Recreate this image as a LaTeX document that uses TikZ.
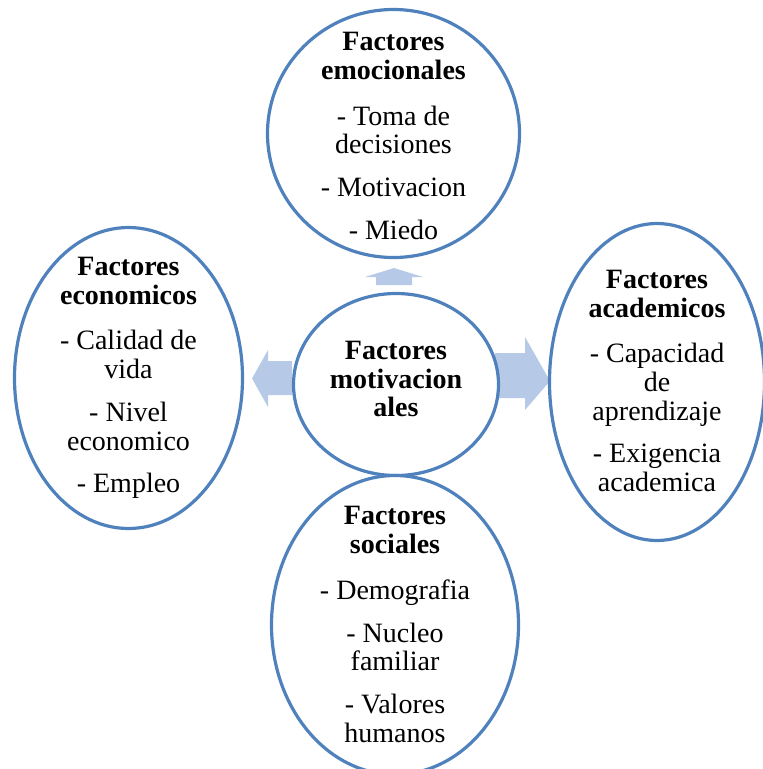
\documentclass[tikz,border=0pt]{standalone}
\usepackage{fontspec}
\setmainfont{Liberation Serif}
\usetikzlibrary{shapes.geometric}
\definecolor{ringblue}{RGB}{79,129,189}
\definecolor{arrowblue}{RGB}{182,202,232}
\begin{document}
\begin{tikzpicture}[x=1pt,y=-1pt,
  ring/.style={ellipse, draw=ringblue, line width=3.2pt, fill=white, inner sep=0pt},
  txt/.style={align=center, font=\fontsize{28}{28.7}\selectfont, inner sep=0pt},
  blockarrow/.style={fill=arrowblue}]
\useasboundingbox (0,0) rectangle (763,769);
% block arrows
\fill[blockarrow] (394,268) -- (423,277) -- (412,277) -- (412,285) -- (376,285) -- (376,277) -- (365,277) -- cycle;
\fill[blockarrow] (394,479) -- (423,470) -- (412,470) -- (412,462) -- (376,462) -- (376,470) -- (365,470) -- cycle;
\fill[blockarrow] (252,378.5) -- (268,350) -- (268,361) -- (292,361) -- (292,395) -- (268,395) -- (268,407) -- cycle;
\fill[blockarrow] (550,381) -- (525,337) -- (525,353) -- (495,353) -- (495,398) -- (525,398) -- (525,410) -- cycle;
% ellipses
\node[ring, minimum width=205, minimum height=182] (c) at (396,384.5) {};
\node[ring, minimum width=252, minimum height=248] (t) at (393.5,133.5) {};
\node[ring, minimum width=228, minimum height=301] (l) at (128.5,378) {};
\node[ring, minimum width=215, minimum height=317] (r) at (657,382) {};
\node[ring, minimum width=247, minimum height=299] (b) at (395,625) {};
% texts
\node[txt] (ct) at (396,379) {\textbf{Factores}\\\textbf{motivacion}\\\textbf{ales}};
\node[txt] (tt) at (393.5,136) {\textbf{Factores}\\\textbf{emocionales}\\[17pt]- Toma de\\decisiones\\[14pt]- Motivacion\\[14pt]- Miedo};
\node[txt] (lt) at (128.5,378) {\textbf{Factores}\\\textbf{economicos}\\[17pt]- Calidad de\\vida\\[14pt]- Nivel\\economico\\[14pt]- Empleo};
\node[txt] (rt) at (657,381) {\textbf{Factores}\\\textbf{academicos}\\[17pt]- Capacidad\\de\\aprendizaje\\[14pt]- Exigencia\\academica};
\node[txt] (bt) at (395,624.5) {\textbf{Factores}\\\textbf{sociales}\\[17pt]- Demografia\\[14pt]- Nucleo\\familiar\\[14pt]- Valores\\humanos};
\end{tikzpicture}
\end{document}
